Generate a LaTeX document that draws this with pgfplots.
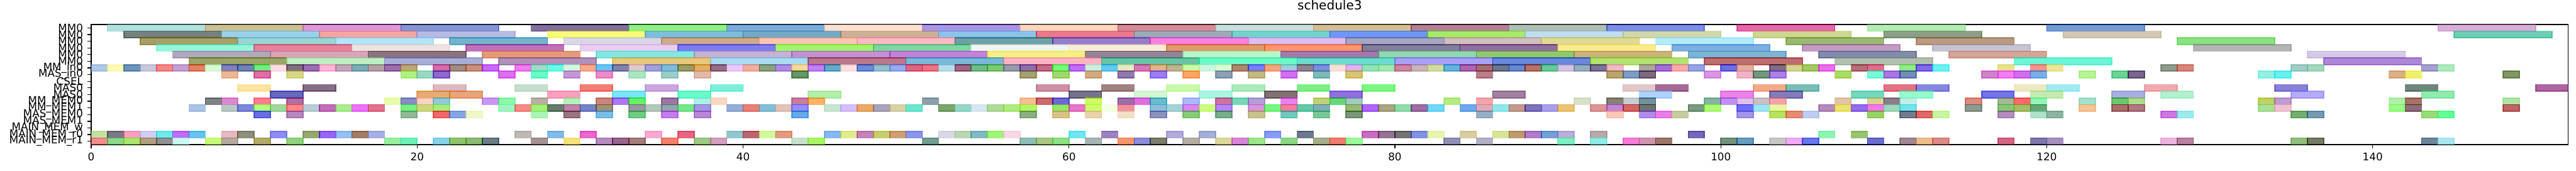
\documentclass[border=0pt]{standalone}
\usepackage{pgfplots}
\pgfplotsset{compat=1.18}
\usepackage{fontspec}
\setmainfont{DejaVu Sans}
% one bar: start, row, length, observed R G B (fill seen over white, alpha 0.6)
\newcommand\bx[6]{%
  \pgfmathtruncatemacro\cR{max(0,min(255,(#4-102)/0.6))}%
  \pgfmathtruncatemacro\cG{max(0,min(255,(#5-102)/0.6))}%
  \pgfmathtruncatemacro\cB{max(0,min(255,(#6-102)/0.6))}%
  \pgfmathsetmacro\xa{#1}\pgfmathsetmacro\xb{#1+#3}%
  \pgfmathsetmacro\ya{#2-0.5}\pgfmathsetmacro\yb{#2+0.5}%
  \edef\doit{\noexpand\addplot[forget plot, line width=0.8pt,
    draw={rgb,255:red,\cR;green,\cG;blue,\cB},
    fill={rgb,255:red,\cR;green,\cG;blue,\cB},
    fill opacity=0.6, draw opacity=0.6]
    coordinates {(\xa,\ya) (\xb,\ya) (\xb,\yb) (\xa,\yb)} -- cycle;}%
  \doit}
\def\parsebar#1/#2/#3/#4\relax{\bx{#1}{\currow}{\curlen}{#2}{#3}{#4}}
\newcommand\brow[3]{\def\currow{#1}\def\curlen{#2}%
  \pgfplotsforeachungrouped\myel in {#3}{\expandafter\parsebar\myel\relax}}
\begin{document}
\begin{tikzpicture}
\path[use as bounding box] (-70.2pt,-20.1pt) rectangle (1912.2pt,111.3pt);
\begin{axis}[
  scale only axis, width=1906.2pt, height=92.4pt,
  xmin=0, xmax=152, ymin=-0.5, ymax=17.5, y dir=reverse,
  xtick={0,20,40,60,80,100,120,140},
  ytick={0,1,...,17},
  yticklabels={MM0,MM0,MM0,MM0,MM0,MM0,MM\_in0,MAS\_in0,CSEL,MAS0,MAS0,MM\_MEM0,MM\_MEM1,MAS\_MEM0,MAS\_MEM1,MAIN\_MEM\_w,MAIN\_MEM\_r0,MAIN\_MEM\_r1},
  tick align=outside, tick pos=left,
  major tick length=2.8pt,
  tick style={line width=0.65pt, black},
  axis line style={line width=0.7pt},
  ticklabel style={font=\fontsize{8.1}{9}\selectfont},
  /pgf/number format/assume math mode=true,
  title={schedule3},
  title style={font=\fontsize{9.7}{11}\selectfont, at={(0.5,1)}, anchor=base, yshift=5.4pt},
]
\brow{0}{6}{1/178/226/222, 7/200/192/150, 13/222/152/215, 19/135/148/208, 27/130/112/155, 33/145/238/135, 39/125/170/215, 45/252/225/210, 51/170/150/230, 57/250/215/190, 63/210/140/150, 69/200/222/218, 75/210/190/150, 81/175/130/150, 87/175/190/178, 93/125/140/230, 101/230/100/170, 109/180/235/180, 120/115/155/215, 144/215/175/215}
\brow{1}{6}{2/117/130/127, 8/155/208/235, 14/245/165/160, 20/182/187/230, 28/248/250/120, 34/125/190/220, 40/115/170/200, 46/205/175/150, 52/140/195/235, 58/235/120/140, 64/155/170/185, 70/115/210/205, 76/110/150/245, 82/165/235/105, 88/190/222/240, 94/208/215/170, 102/205/215/145, 110/140/160/135, 121/210/200/180, 145/110/205/180}
\brow{2}{6}{3/165/160/105, 9/155/212/212, 15/180/228/248, 22/115/180/205, 29/215/215/230, 35/205/170/140, 41/248/198/178, 47/252/185/195, 53/110/160/165, 59/150/125/200, 65/248/130/225, 71/220/190/240, 77/165/165/195, 83/210/190/190, 89/222/218/150, 96/180/235/250, 104/155/185/115, 112/185/155/130, 128/140/225/130}
\brow{3}{6}{4/150/245/220, 10/230/130/155, 16/238/226/226, 23/192/112/185, 30/232/205/240, 36/125/125/240, 42/160/245/110, 48/125/215/160, 54/240/245/240, 60/248/238/215, 66/225/155/105, 72/255/150/110, 78/130/125/155, 84/145/110/160, 90/250/235/145, 97/125/175/225, 105/195/155/195, 113/198/195/210, 129/180/180/180}
\brow{4}{6}{5/177/168/190, 11/215/165/183, 17/140/115/128, 24/230/155/120, 31/130/230/225, 37/198/178/212, 43/195/145/210, 49/195/130/215, 55/245/238/130, 61/150/130/150, 67/185/245/200, 73/165/120/170, 79/145/215/175, 85/145/200/110, 91/200/180/120, 98/125/180/210, 106/130/140/170, 114/212/165/150, 136/212/202/232}
\brow{5}{6}{6/155/165/100, 12/192/238/195, 18/168/175/215, 25/175/145/185, 32/232/200/125, 38/170/220/240, 44/185/120/140, 50/120/185/215, 56/252/180/195, 62/105/195/165, 68/110/250/200, 74/110/220/205, 80/170/160/250, 86/105/135/220, 92/180/225/115, 99/190/110/110, 107/178/192/175, 118/110/245/215, 137/175/135/215}
\brow{6}{1}{0/175/200/230, 1/255/248/185, 2/110/150/185, 3/200/200/220, 4/245/135/135, 5/195/160/210, 6/225/130/100, 7/215/250/215, 8/125/130/195, 9/115/130/180, 10/115/235/130, 11/250/222/230, 12/130/110/130, 13/155/110/175, 14/255/180/215, 15/195/165/185, 16/125/170/180, 17/180/160/165, 18/155/110/170, 19/190/165/120, 21/210/110/165, 22/160/140/130, 23/200/145/125, 24/200/105/250, 26/240/125/235, 27/160/220/200, 28/110/250/230, 29/210/250/225, 30/250/170/140, 31/105/195/245, 32/125/130/175, 33/225/200/210, 34/160/160/220, 35/130/185/225, 36/155/155/105, 37/225/175/100, 38/150/110/135, 39/235/200/250, 40/240/175/160, 41/140/160/130, 42/175/140/225, 43/252/215/155, 44/190/130/245, 45/100/170/200, 46/250/225/225, 47/110/140/215, 48/150/190/205, 49/150/170/240, 50/220/95/130, 51/235/115/130, 52/185/220/235, 53/160/100/130, 54/115/185/135, 55/125/200/115, 56/150/155/170, 57/140/110/175, 58/190/110/135, 59/115/250/120, 60/190/110/245, 61/200/240/225, 62/100/200/240, 63/230/235/195, 64/215/120/180, 65/225/180/135, 66/190/180/145, 67/205/250/170, 68/205/245/225, 69/220/250/210, 70/175/135/110, 71/125/125/250, 72/245/165/130, 73/160/205/215, 74/145/130/145, 75/130/140/220, 76/250/225/215, 77/220/180/240, 78/150/225/185, 79/165/230/180, 80/205/135/160, 81/200/180/185, 82/210/220/160, 83/100/180/215, 84/170/100/170, 85/165/110/110, 86/110/120/140, 87/110/135/200, 88/180/115/100, 89/105/200/150, 90/210/195/225, 91/150/175/190, 92/125/115/150, 93/240/185/200, 95/170/165/160, 96/165/110/215, 97/250/170/175, 98/150/165/225, 100/110/110/225, 101/225/175/160, 103/125/110/130, 104/215/210/150, 105/165/200/100, 106/235/110/235, 108/180/110/120, 109/220/110/140, 111/145/235/135, 112/130/105/230, 113/110/240/240, 117/230/225/145, 119/250/145/140, 120/235/230/155, 127/145/155/140, 128/215/135/125, 135/160/205/200, 136/165/215/190, 143/165/160/205, 144/175/235/190}
\brow{7}{1}{8/235/185/150, 10/225/110/165, 12/215/215/140, 19/175/240/130, 20/155/215/195, 21/140/105/205, 25/220/110/240, 27/105/250/200, 29/195/150/215, 31/235/140/200, 33/170/230/195, 35/155/205/200, 37/225/185/170, 43/100/150/100, 57/165/160/115, 59/160/215/110, 61/210/170/130, 63/145/120/170, 65/155/125/245, 67/255/165/100, 69/140/160/180, 71/195/185/130, 73/210/110/240, 75/125/185/185, 77/215/195/115, 85/185/125/140, 93/185/165/110, 94/130/155/195, 95/125/105/125, 99/215/150/230, 101/240/180/200, 102/115/150/125, 103/170/130/230, 107/170/220/100, 109/120/250/215, 110/165/120/225, 111/115/140/185, 116/210/130/205, 117/245/125/245, 118/210/110/235, 119/120/175/230, 122/180/245/150, 124/110/210/150, 125/120/100/140, 133/145/240/230, 134/100/240/240, 141/220/175/135, 142/240/240/110, 148/130/150/95}
\brow{9}{2}{9/252/228/160, 13/135/110/135, 21/222/185/192, 26/198/222/205, 30/245/125/115, 34/205/165/225, 38/125/240/220, 58/205/145/165, 62/160/130/130, 66/200/250/170, 70/170/235/185, 74/125/240/135, 78/125/245/130, 94/225/200/200, 96/165/105/150, 102/245/170/135, 104/120/190/180, 110/225/115/130, 112/135/135/225, 118/235/232/195, 120/160/235/240, 126/240/170/175, 134/135/130/215, 142/110/135/125, 150/175/100/160}
\brow{10}{2}{11/100/105/190, 20/232/172/115, 22/232/165/122, 28/250/160/190, 32/120/230/245, 36/105/250/200, 44/180/238/170, 60/120/115/140, 64/210/245/210, 68/170/245/225, 72/130/115/115, 76/145/110/225, 86/160/130/160, 95/175/210/250, 100/235/130/230, 103/130/125/185, 108/115/215/190, 111/150/250/205, 116/115/115/235, 119/195/235/175, 124/170/175/225, 127/180/240/205, 135/180/170/250, 143/145/235/175}
\brow{11}{1}{7/125/130/130, 8/220/135/210, 10/255/125/145, 12/180/110/160, 18/230/252/170, 19/135/140/195, 20/250/210/195, 21/140/205/215, 24/200/150/245, 25/140/250/170, 27/185/175/165, 29/180/240/185, 31/200/135/125, 32/170/120/240, 33/105/240/100, 35/155/120/160, 37/170/240/230, 38/250/215/195, 43/200/125/160, 44/245/180/100, 51/140/160/170, 57/245/190/150, 58/200/105/110, 59/110/105/210, 61/205/250/100, 63/155/110/170, 64/225/110/225, 65/100/190/205, 67/170/185/255, 69/205/115/160, 70/120/215/185, 71/180/160/215, 73/230/130/235, 75/190/210/120, 76/100/215/120, 77/165/200/195, 83/180/235/130, 85/240/165/170, 91/215/225/200, 93/135/130/120, 94/200/205/210, 95/115/145/155, 99/135/180/160, 100/190/145/240, 101/225/190/235, 102/200/190/195, 103/245/165/170, 107/225/195/165, 109/215/210/150, 110/140/125/140, 111/190/240/230, 115/220/140/125, 117/165/185/150, 118/250/105/105, 119/145/245/180, 122/165/225/205, 124/110/200/110, 125/175/220/140, 133/190/210/100, 134/190/155/210, 141/175/240/170, 142/165/115/100, 148/175/230/165}
\brow{12}{1}{6/170/195/230, 8/185/200/195, 9/125/135/220, 10/175/255/125, 11/160/215/155, 12/255/135/135, 13/185/205/215, 14/195/110/185, 15/170/235/145, 16/235/115/245, 17/225/115/140, 19/120/240/130, 20/205/215/130, 21/170/235/125, 25/160/245/195, 26/245/140/135, 27/165/240/115, 28/100/125/105, 29/190/130/165, 30/115/135/200, 31/160/145/120, 33/155/150/165, 34/180/200/185, 35/145/165/170, 36/120/230/140, 37/165/150/225, 39/150/175/215, 40/230/130/120, 41/135/190/215, 42/225/195/185, 43/150/140/250, 45/200/230/210, 46/215/190/250, 47/235/170/105, 48/170/165/185, 49/215/210/170, 50/110/230/205, 52/125/165/110, 53/150/215/200, 54/215/230/240, 55/175/220/155, 56/175/235/130, 57/180/245/100, 59/150/230/110, 60/230/120/200, 61/205/250/110, 62/245/255/225, 63/240/145/160, 65/140/190/220, 66/165/210/215, 67/215/135/240, 68/205/250/130, 69/180/135/245, 71/215/150/220, 72/120/245/130, 73/240/125/160, 74/100/200/170, 75/125/175/180, 77/150/185/115, 78/175/100/250, 79/170/165/130, 80/145/220/170, 81/160/110/165, 82/115/215/245, 84/110/170/235, 85/225/170/180, 86/145/230/235, 87/195/155/140, 88/125/115/185, 89/170/160/235, 90/235/195/120, 92/220/150/150, 93/195/135/215, 94/210/100/100, 95/110/115/110, 98/120/155/130, 99/175/250/120, 101/110/110/245, 102/160/228/240, 103/235/245/170, 106/180/140/185, 107/235/225/110, 108/145/110/235, 109/245/120/235, 110/160/215/185, 111/120/225/235, 115/140/155/145, 117/135/200/115, 118/165/190/90, 119/100/165/120, 122/245/195/150, 124/170/110/110, 125/175/120/130, 133/170/225/150, 134/240/195/210, 141/155/250/135, 142/140/110/120, 148/190/100/100}
\brow{13}{1}{10/105/110/230, 12/180/135/190, 19/145/185/150, 21/240/105/105, 22/135/165/230, 23/238/248/200, 27/170/245/180, 29/155/115/130, 31/120/190/235, 33/110/205/130, 35/195/125/235, 37/185/135/215, 43/95/170/230, 57/140/175/130, 59/215/195/135, 61/235/210/170, 63/240/225/200, 65/140/145/190, 67/135/205/120, 69/120/175/140, 71/200/195/140, 73/110/200/190, 75/120/200/150, 77/120/150/120, 85/150/175/200, 93/255/200/185, 95/175/140/235, 96/235/125/230, 97/200/205/160, 101/160/150/235, 103/185/225/95, 104/230/140/115, 105/190/205/240, 109/150/210/100, 111/115/125/145, 112/225/105/105, 113/200/245/160, 117/180/140/190, 119/175/225/200, 120/140/180/160, 127/205/120/225, 128/155/235/235, 135/115/175/110, 136/120/155/180, 143/150/220/120, 144/100/255/150}
\brow{16}{1}{0/195/225/165, 1/125/120/135, 2/250/160/190, 3/210/205/245, 4/110/235/235, 5/190/110/245, 6/100/195/235, 8/230/185/190, 9/140/145/125, 11/140/140/245, 13/150/170/110, 14/150/100/245, 15/150/190/240, 16/160/125/100, 17/165/175/225, 26/190/185/180, 28/130/185/230, 30/235/100/205, 34/250/170/210, 36/230/100/130, 39/145/200/205, 40/190/100/110, 41/210/250/155, 42/225/155/130, 45/135/185/240, 46/225/235/140, 47/195/130/185, 48/200/205/110, 49/205/160/115, 50/140/150/235, 52/220/215/230, 53/185/215/180, 54/130/185/195, 55/160/245/120, 56/250/215/230, 60/110/230/240, 62/155/130/190, 66/180/170/220, 68/165/175/215, 72/135/155/250, 74/110/120/140, 78/200/110/190, 79/150/115/145, 80/115/115/115, 81/130/145/230, 82/230/245/175, 84/215/205/160, 86/215/230/150, 87/190/155/110, 88/175/125/200, 89/115/160/215, 90/185/175/215, 92/185/170/170, 98/115/105/185, 106/140/245/180, 108/150/195/110}
\brow{17}{1}{0/240/140/140, 1/140/215/140, 2/170/230/110, 3/175/160/130, 4/145/145/145, 5/200/248/240, 7/200/250/120, 8/180/170/160, 10/180/170/105, 12/145/210/125, 18/150/240/160, 19/110/240/185, 21/135/210/235, 22/145/195/110, 23/140/185/115, 24/105/125/130, 27/165/145/145, 29/245/225/125, 31/180/140/190, 32/150/100/140, 33/165/125/125, 35/240/130/110, 37/160/200/135, 38/210/160/190, 43/200/225/205, 44/170/245/90, 51/115/155/145, 57/145/190/180, 58/170/200/130, 59/140/225/135, 61/165/180/180, 63/250/150/110, 64/140/140/215, 65/125/125/110, 67/180/175/165, 69/220/215/155, 70/215/135/215, 71/155/230/140, 73/140/215/135, 75/165/175/140, 76/240/125/110, 77/155/250/155, 83/145/145/180, 85/180/175/195, 90/125/240/195, 92/145/235/230, 94/245/125/215, 95/205/150/175, 96/155/120/105, 100/115/145/125, 101/105/155/190, 103/195/200/195, 104/240/170/245, 105/100/120/235, 109/105/110/205, 111/160/135/150, 112/235/190/140, 113/220/140/135, 117/210/100/130, 119/125/120/170, 120/165/145/190, 127/235/180/220, 128/185/130/160, 135/145/190/125, 136/115/125/95, 143/110/135/155, 144/170/230/240}
\end{axis}
\end{tikzpicture}
\end{document}
